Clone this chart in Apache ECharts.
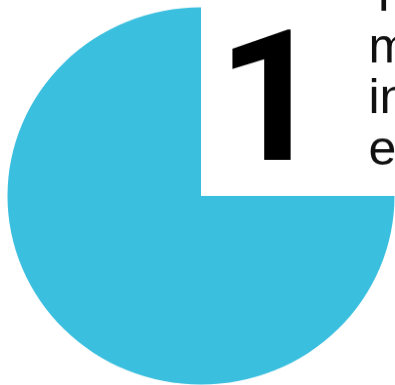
<!DOCTYPE html>
<html>
<head>
<meta charset="utf-8">
<script src="https://cdn.jsdelivr.net/npm/echarts@6/dist/echarts.min.js"></script>
<style>
  html, body { margin: 0; padding: 0; background: #fff; overflow: hidden; }
  #chart { width: 395px; height: 395px; transform: scaleY(0.9747); transform-origin: 0 0; }
</style>
</head>
<body>
<div id="chart"></div>
<script>
// Pie: one filled share, the rest left empty
const categories = ['Share', 'Remainder'];
const values = [75, 25];
const sliceColors = ['#3bbfdf', 'none'];

// Big figure and the caption lines beside it
const bigNumber = '1';
const captionLines = ['The', 'most', 'in', 'each'];

const chart = echarts.init(document.getElementById('chart'), null, { renderer: 'canvas' });

const lineTop = -2.4;
const lineStep = 52.4;

chart.setOption({
  animation: false,
  backgroundColor: '#ffffff',
  series: [{
    type: 'pie',
    center: [201, 201],
    radius: 193.5,
    startAngle: 0,
    clockwise: true,
    silent: true,
    label: { show: false },
    labelLine: { show: false },
    emphasis: { disabled: true },
    data: categories.map((name, i) => ({
      name,
      value: values[i],
      itemStyle: { color: sliceColors[i], borderWidth: 0 }
    }))
  }],
  graphic: [
    {
      type: 'text',
      x: 217,
      y: 23,
      style: {
        text: bigNumber,
        fontFamily: 'Roboto',
        fontSize: 188,
        fontWeight: 'bold',
        fill: '#000',
        align: 'left',
        verticalAlign: 'top'
      }
    }
  ].concat(captionLines.map((t, i) => ({
    type: 'text',
    x: 368.5,
    y: lineTop + i * lineStep,
    style: {
      text: t,
      fontFamily: 'Liberation Sans',
      fontSize: 50,
      fill: '#111',
      align: 'left',
      verticalAlign: 'middle'
    }
  })))
});
</script>
</body>
</html>
